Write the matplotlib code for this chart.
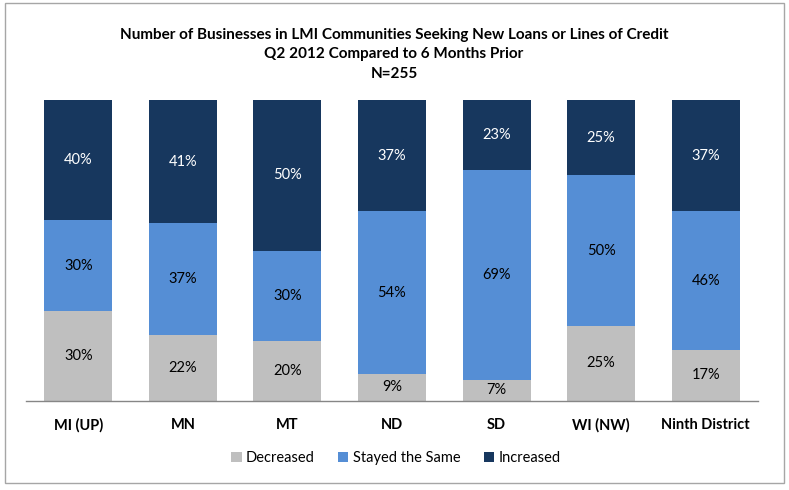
import matplotlib
matplotlib.use("Agg")
import matplotlib.pyplot as plt
from matplotlib.patches import Rectangle, Patch
import numpy as np

plt.rcParams['font.family'] = ['Lato', 'DejaVu Sans']

categories = ["MI (UP)", "MN", "MT", "ND", "SD", "WI (NW)", "Ninth District"]
decreased = [30, 22, 20, 9, 7, 25, 17]
stayed = [30, 37, 30, 54, 69, 50, 46]
increased = [40, 41, 50, 37, 23, 25, 37]
series_names = ["Decreased", "Stayed the Same", "Increased"]
colors = ["#BFBFBF", "#558ED5", "#17375E"]
text_colors = ["#000000", "#000000", "#FFFFFF"]
title = ("Number of Businesses in LMI Communities Seeking New Loans or Lines of Credit\n"
         "Q2 2012 Compared to 6 Months Prior\nN=255")

W, H = 789, 490
fig = plt.figure(figsize=(W / 100, H / 100), dpi=100)
fig.patches.append(Rectangle((5 / W, 1 - 483 / H), 779 / W, 480 / H,
                             transform=fig.transFigure, fill=False,
                             edgecolor="#A6A6A6", linewidth=1.0))

ax = fig.add_axes([26 / W, 1 - 401 / H, (758 - 26) / W, (401 - 100) / H])

data = np.array([decreased, stayed, increased], dtype=float)
totals = data.sum(axis=0)
shares = data / totals * 100
x = np.arange(len(categories))
bottom = np.zeros(len(categories))
for i in range(3):
    ax.bar(x, shares[i], 0.65, bottom=bottom, color=colors[i], label=series_names[i], zorder=2)
    for j in range(len(categories)):
        ax.text(x[j], bottom[j] + shares[i][j] / 2, f"{int(data[i][j])}%",
                ha="center", va="center", fontsize=10.5, color=text_colors[i])
    bottom += shares[i]

ax.set_xlim(-0.5, len(categories) - 0.5)
ax.set_ylim(0, 100)
ax.set_yticks([])
ax.set_xticks(x)
ax.set_xticklabels(categories, fontsize=10.5, fontweight="bold")
ax.tick_params(axis="x", length=0, pad=12)
for s in ["top", "right", "left"]:
    ax.spines[s].set_visible(False)
ax.spines["bottom"].set_color("#868686")
ax.spines["bottom"].set_linewidth(1.0)
ax.patch.set_alpha(0)

fig.text(394 / W, 1 - 54 / H, title, ha="center", va="center", fontsize=11,
         fontweight="bold", linespacing=1.5)

handles = [Patch(facecolor=c) for c in colors]
fig.legend(handles, series_names, loc="center", bbox_to_anchor=(396 / W, 1 - 458 / H),
           ncol=3, frameon=False, fontsize=10.5, handlelength=0.7, handleheight=0.7,
           handletextpad=0.3, columnspacing=1.6)

fig.savefig("out.png", dpi=100)
